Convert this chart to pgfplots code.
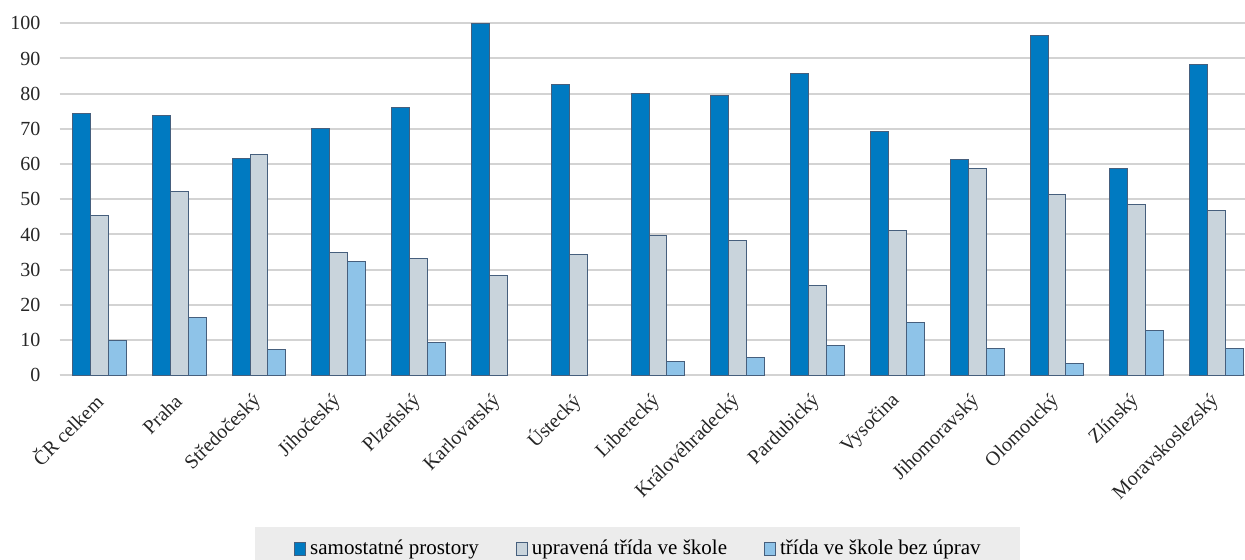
\documentclass[border=0pt]{standalone}
\usepackage{pgfplots}
\usepackage{pgfplotstable}
\pgfplotsset{compat=1.18}
\usepackage{fontspec}
\setmainfont{Liberation Serif}

\definecolor{cblue}{RGB}{0,122,193}
\definecolor{cgray}{RGB}{201,212,220}
\definecolor{clight}{RGB}{142,195,232}
\definecolor{cedge}{RGB}{70,95,125}
\definecolor{gridgray}{RGB}{211,211,211}
\definecolor{legbg}{RGB}{236,236,236}

% x = region index, values in %
\pgfplotstableread{
x samost upravena bezuprav
0  74.5 45.5  9.9
1  73.7 52.3 16.5
2  61.6 62.8  7.3
3  70.2 35.0 32.3
4  76.1 33.2  9.4
5  100  28.4  nan
6  82.6 34.3  nan
7  80.0 39.8  4.0
8  79.4 38.3  5.0
9  85.7 25.5  8.4
10 69.4 41.2 15.0
11 61.4 58.8  7.5
12 96.5 51.5  3.4
13 58.8 48.5 12.7
14 88.2 46.8  7.6
}\krajedata

\begin{document}
\begin{tikzpicture}
\path[use as bounding box] (0,0) rectangle (622.5pt,280pt);
\fill[legbg] (127.5pt,0) rectangle (510pt,16.5pt);
\begin{axis}[
    at={(29.75pt,92.35pt)}, anchor=south west,
    scale only axis,
    width=598.5pt, height=176pt,
    xmin=-0.5, xmax=14.5,
    ymin=0, ymax=100,
    ytick={0,10,...,100},
    xtick=data,
    xticklabels={ČR celkem,Praha,Středočeský,Jihočeský,Plzeňský,Karlovarský,Ústecký,Liberecký,Královéhradecký,Pardubický,Vysočina,Jihomoravský,Olomoucký,Zlínský,Moravskoslezský},
    ybar=0pt, bar width=8.95pt,
    axis lines*=left,
    x axis line style={draw=gridgray, line width=1pt},
    y axis line style={draw=none},
    major tick length=0pt,
    ymajorgrids,
    major grid style={gridgray, line width=1pt},
    /pgf/number format/assume math mode=true,
    every tick label/.append style={font=\fontsize{10}{12}\selectfont, text=black!85},
    yticklabel style={xshift=-6pt},
    % shifts act in the rotated frame
    xticklabel style={rotate=45, anchor=east, xshift=-4.8pt, yshift=-7.7pt},
    legend style={at={(0.4845,-0.5415)}, anchor=south, draw=none, fill=none,
        legend columns=3, font=\fontsize{10.5}{12}\selectfont,
        /tikz/every even column/.append style={column sep=16.5pt}},
    legend image code/.code={\draw[#1, line width=0.5pt] (0pt,-3.25pt) rectangle (5.5pt,3.25pt);},
    every axis plot/.append style={draw=cedge, line width=0.5pt},
]
\addplot[fill=cblue] table[x=x, y=samost] {\krajedata};
\addlegendentry{samostatné prostory}
\addplot[fill=cgray] table[x=x, y=upravena] {\krajedata};
\addlegendentry{upravená třída ve škole}
\addplot[fill=clight] table[x=x, y=bezuprav] {\krajedata};
\addlegendentry{třída ve škole bez úprav}
\end{axis}
\end{tikzpicture}
\end{document}
